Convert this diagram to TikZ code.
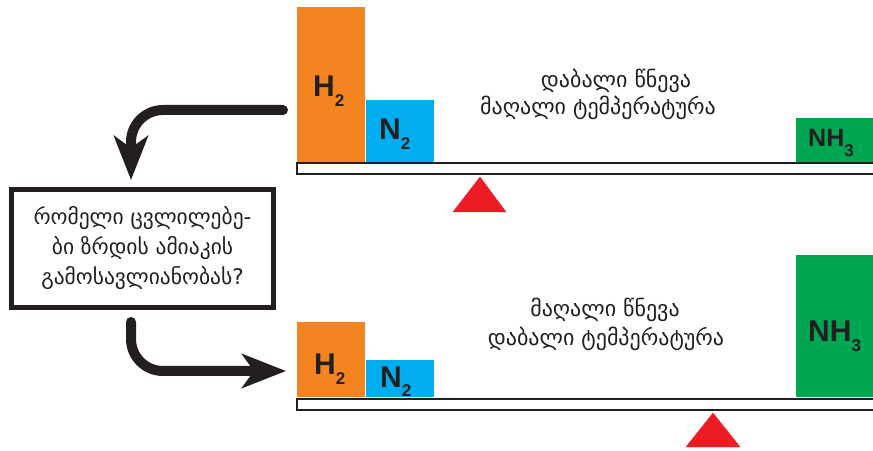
\documentclass[tikz,border=0pt]{standalone}
\usepackage{fontspec}
\setmainfont{DejaVu Sans}
\newfontfamily\chemfont{Liberation Sans}
\usetikzlibrary{arrows.meta}

\definecolor{hcol}{HTML}{F48420}
\definecolor{ncol}{HTML}{00AEEF}
\definecolor{acol}{HTML}{00A651}
\definecolor{pcol}{HTML}{ED1C24}
\definecolor{ink}{HTML}{231F20}

% formula with a lowered index
\newcommand{\mol}[2]{#1\raisebox{-10pt}{\fontsize{17}{17}\selectfont #2}}

\begin{document}
\begin{tikzpicture}[x=1pt,y=1pt,
	bar/.style={anchor=south west, inner sep=0pt, minimum width=68pt},
	beam/.style={draw=ink, line width=2.4pt, fill=white},
	moltext/.style={anchor=base west, inner sep=0pt, text=ink, font=\chemfont\bfseries\fontsize{30}{30}\selectfont},
	cond/.style={anchor=base, inner sep=0pt, text=ink, font=\fontsize{22}{26}\selectfont},
	bigarrow/.style={draw=ink, line width=10pt, line cap=round, rounded corners=32pt, -{Stealth[length=44pt,width=34pt,inset=12pt]}}]
	\useasboundingbox (0,0) rectangle (873,450);
	% upper balance
	\node[bar, fill=hcol, minimum height=155pt] (h2a) at (297,288) {};
	\node[bar, fill=ncol, minimum height=62pt] (n2a) at (h2a.south east) {};
	\node[bar, fill=acol, minimum height=44pt, minimum width=80pt] (nh3a) at (796,288) {};
	\draw[beam] (297,287) rectangle (880,276);
	\filldraw[pcol] (453,238) -- (480,273) coordinate (tipa) -- (506,238) -- cycle;
	\node[moltext] (lh2a) at (313,353) {\mol{H}{2}};
	\node[moltext] (ln2a) at (379,310) {\mol{N}{2}};
	\node[moltext, font=\chemfont\bfseries\fontsize{25}{25}\selectfont] (lnh3a) at (808,303) {\mol{NH}{3}};
	\node[cond] (pa) at (616,362) {დაბალი წნევა};
	\node[cond] (ta) at (598,335) {მაღალი ტემპერატურა};
	% lower balance
	\node[bar, fill=hcol, minimum height=75pt] (h2b) at (297,53) {};
	\node[bar, fill=ncol, minimum height=37pt] (n2b) at (h2b.south east) {};
	\node[bar, fill=acol, minimum height=142pt, minimum width=80pt] (nh3b) at (796,53) {};
	\draw[beam] (297,51) rectangle (880,40);
	\filldraw[pcol] (686,3) -- (713,37) coordinate (tipb) -- (740,3) -- cycle;
	\node[moltext] (lh2b) at (314,75) {\mol{H}{2}};
	\node[moltext] (ln2b) at (380,63) {\mol{N}{2}};
	\node[moltext] (lnh3b) at (808,108) {\mol{NH}{3}};
	\node[cond] (pb) at (605,133) {მაღალი წნევა};
	\node[cond] (tb) at (606,104) {დაბალი ტემპერატურა};
	% question
	\node[draw=ink, line width=5pt, minimum width=262pt, minimum height=118pt, inner sep=0pt,
		align=center, text=ink, font=\fontsize{21.5}{30}\selectfont] (question) at (142.5,201.5)
		{რომელი ცვლილებე-\\ბი ზრდის ამიაკის\\გამოსავლიანობას?};
	\coordinate (froma) at (283,340);
	\coordinate (toa) at (131,270);
	\coordinate (fromb) at (131,128);
	\coordinate (tob) at (286,79);
	\draw[bigarrow] (froma) -| (toa);
	\draw[bigarrow] (fromb) |- (tob);
\end{tikzpicture}
\end{document}
